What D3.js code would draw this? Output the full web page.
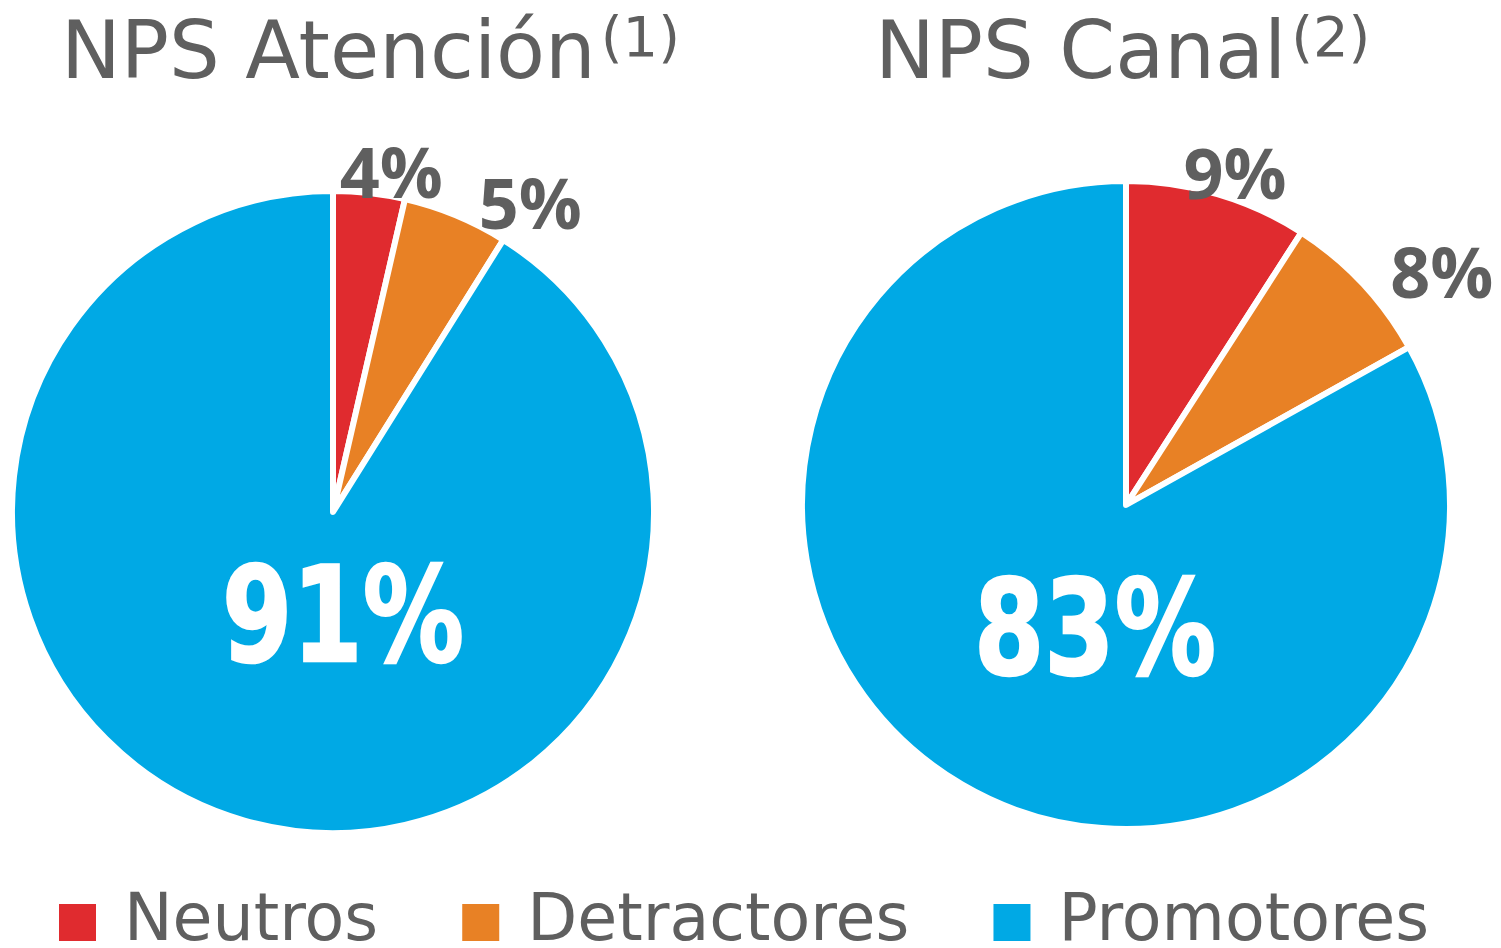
<!DOCTYPE html>
<html>
<head>
<meta charset="utf-8">
<script src="https://cdn.jsdelivr.net/npm/d3@7"></script>
<style>
  html, body { margin: 0; padding: 0; background: #ffffff; }
  svg { display: block; }
</style>
</head>
<body>
<svg id="chart" width="1501" height="948"></svg>
<script>
// ---- data ----
const categories = ["Neutros", "Detractores", "Promotores"];
const chartTitles = ["NPS Atención", "NPS Canal"];
const titleNotes = ["(1)", "(2)"];
const atencionValues = [3.6, 5.3, 91.1];
const canalValues = [9.1, 7.8, 83.1];
const labelTexts = [["4%", "5%", "91%"], ["9%", "8%", "83%"]];

// ---- styling / layout ----
const colors = d3.scaleOrdinal().domain(categories).range(["#E02B2F", "#E88125", "#00A9E5"]);
const textGray = "#5F5F5F";
const svg = d3.select("#chart");

const pies = [
  { values: atencionValues, cx: 333, cy: 512, r: 321, titleX: 61, titleNoteGap: 5,
    nudges: [[19, 7], [64, 14], [10, 101]] },
  { values: canalValues, cx: 1126, cy: 505, r: 324, titleX: 875, titleNoteGap: 5,
    nudges: [[10, 6], [60, 8], [-31, 121]] }
];

const pie = d3.pie().sort(null).value(d => d);

pies.forEach((p, pi) => {
  const g = svg.append("g").attr("transform", `translate(${p.cx},${p.cy})`);
  const arc = d3.arc().innerRadius(0).outerRadius(p.r);
  const outerLabelArc = d3.arc().innerRadius(p.r + 27).outerRadius(p.r + 27);
  const arcs = pie(p.values);

  g.selectAll("path")
    .data(arcs)
    .join("path")
    .attr("d", arc)
    .attr("fill", (d, i) => colors(categories[i]))
    .attr("stroke", "#ffffff")
    .attr("stroke-width", 6)
    .attr("stroke-linejoin", "round");

  arcs.forEach((d, i) => {
    const txt = labelTexts[pi][i];
    if (i < 2) {
      const c = outerLabelArc.centroid(d);
      const fs = 70;
      g.append("text")
        .attr("x", c[0] + p.nudges[i][0])
        .attr("y", c[1] + p.nudges[i][1] + fs * 0.357)
        .attr("text-anchor", "middle")
        .attr("font-family", "'Open Sans', sans-serif")
        .attr("font-weight", 700)
        .attr("font-size", fs)
        .attr("fill", textGray)
        .text(txt);
    } else {
      const fs = 132;
      g.append("text")
        .attr("x", p.nudges[i][0])
        .attr("y", p.nudges[i][1] + fs * 0.729 / 2)
        .attr("text-anchor", "middle")
        .attr("font-family", "'DejaVu Sans', sans-serif")
        .attr("font-weight", 700)
        .attr("font-size", fs)
        .attr("textLength", 242)
        .attr("lengthAdjust", "spacingAndGlyphs")
        .attr("fill", "#ffffff")
        .attr("stroke", "#ffffff")
        .attr("stroke-width", 2.5)
        .text(txt);
    }
  });

  // title
  const t = svg.append("text")
    .attr("x", p.titleX)
    .attr("y", 78)
    .attr("font-family", "'DejaVu Sans', Verdana, sans-serif")
    .attr("font-size", 80)
    .attr("fill", textGray)
    .text(chartTitles[pi]);
  const tw = t.node().getComputedTextLength();
  svg.append("text")
    .attr("x", p.titleX + tw + p.titleNoteGap)
    .attr("y", 56)
    .attr("font-family", "'DejaVu Sans', Verdana, sans-serif")
    .attr("font-size", 56)
    .attr("fill", textGray)
    .text(titleNotes[pi]);
});

// legend
const legend = svg.append("g");
let lx = 59;
const sq = 37, baseY = 940;
categories.forEach((c, i) => {
  legend.append("rect")
    .attr("x", lx).attr("y", baseY - sq + 1)
    .attr("width", sq).attr("height", sq)
    .attr("fill", colors(c));
  const t = legend.append("text")
    .attr("x", lx + sq + 28)
    .attr("y", baseY)
    .attr("font-family", "'DejaVu Sans', Verdana, sans-serif")
    .attr("font-size", 65)
    .attr("fill", textGray)
    .text(c);
  lx += sq + 28 + t.node().getComputedTextLength() + 84;
});
</script>
</body>
</html>
